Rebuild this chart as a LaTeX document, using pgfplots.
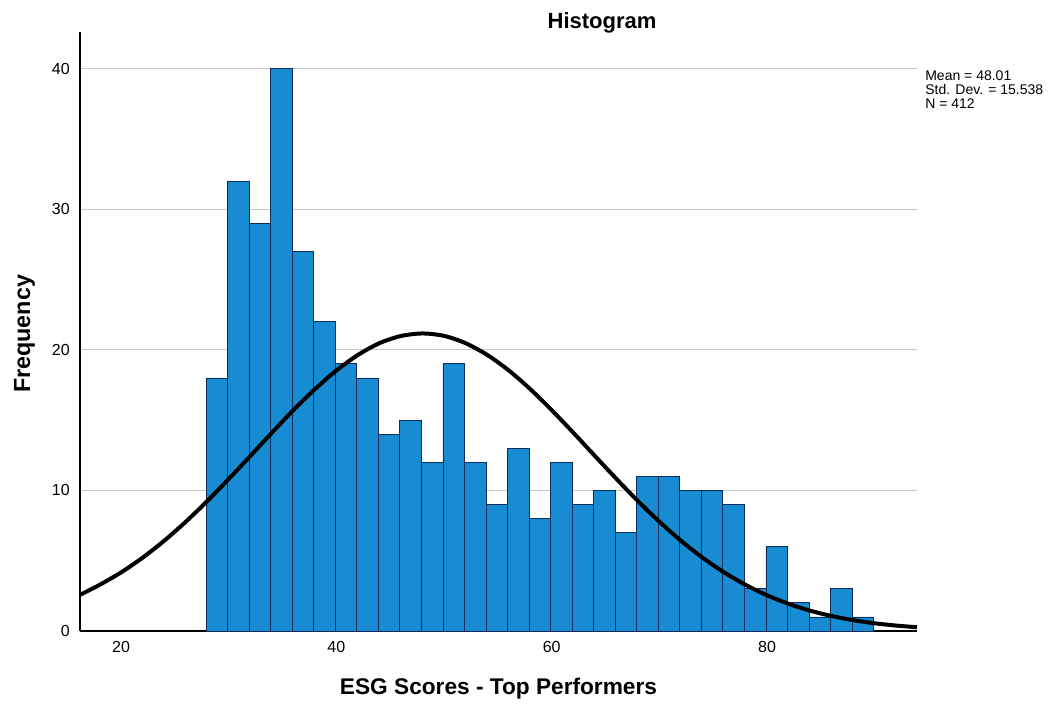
\documentclass[border=0pt]{standalone}
\usepackage{pgfplots}
\pgfplotsset{compat=1.18}
\usepackage{fontspec}
\setmainfont{Liberation Sans}
\definecolor{barblue}{RGB}{24,140,210}
\definecolor{baredge}{RGB}{12,45,90}
\begin{document}
\begin{tikzpicture}
\useasboundingbox (0,0) rectangle (795pt,528pt);
\begin{axis}[
  at={(60pt,54.75pt)}, anchor=south west,
  scale only axis, width=627.75pt, height=449.25pt,
  xmin=16.19, xmax=93.93, ymin=0, ymax=42.6,
  axis x line=bottom, axis y line=left,
  axis line style={-, line width=1.1pt, black},
  xtick={20,40,60,80}, ytick={0,10,20,30,40},
  major tick length=0pt,
  ymajorgrids, grid style={gray!45, line width=0.6pt},
  tick label style={font=\fontsize{12}{13}\selectfont},
  /pgf/number format/assume math mode=true,
  xticklabel style={inner sep=0pt, yshift=-7.5pt},
  yticklabel style={inner sep=0pt, xshift=-7.5pt},
  title={Histogram},
  title style={at={(axis description cs:0.6237,0.9933)}, anchor=base, inner sep=0pt,
    font=\fontsize{16.5}{18}\selectfont\bfseries},
  xlabel={ESG Scores - Top Performers},
  xlabel style={at={(axis description cs:0.5,-0.1068)}, anchor=base, inner sep=0pt,
    font=\fontsize{17}{19}\selectfont\bfseries},
  ylabel={Frequency},
  ylabel style={at={(axis description cs:-0.0597,0.496)}, anchor=base, inner sep=0pt,
    font=\fontsize{17.5}{19}\selectfont\bfseries},
  clip=false,
]
\addplot[ybar interval, fill=barblue, draw=baredge, line width=0.6pt] coordinates {
(27.9,18) (29.9,32) (31.9,29) (33.9,40) (35.9,27) (37.9,22) (39.9,19) (41.9,18)
(43.9,14) (45.9,15) (47.9,12) (49.9,19) (51.9,12) (53.9,9) (55.9,13) (57.9,8)
(59.9,12) (61.9,9) (63.9,10) (65.9,7) (67.9,11) (69.9,11) (71.9,10) (73.9,10)
(75.9,9) (77.9,3) (79.9,6) (81.9,2) (83.9,1) (85.9,3) (87.9,1) (89.9,1)
};
\addplot[black, line width=3pt, smooth] coordinates {
(16.19,2.57) (18,3.278) (20,4.166) (22,5.212) (24,6.412) (26,7.758) (28,9.234)
(30,10.81) (32,12.44) (34,14.09) (36,15.70) (38,17.19) (40,18.53) (42,19.63)
(44,20.47) (46,20.98) (48,21.16) (50,20.99) (52,20.47) (54,19.64) (56,18.54)
(58,17.21) (60,15.71) (62,14.11) (64,12.46) (66,10.83) (68,9.249) (70,7.772)
(72,6.424) (74,5.223) (76,4.177) (78,3.287) (80,2.542) (82,1.934) (84,1.447)
(86,1.065) (88,0.772) (90,0.549) (92,0.385) (93.93,0.27)
};
\node[anchor=north west, inner sep=0pt, align=left,
  font=\fontsize{10.5}{10.5}\selectfont]
  at (axis description cs:1.0096,0.935)
  {Mean = 48.01\\Std. Dev. = 15.538\\N = 412};
\end{axis}
\end{tikzpicture}
\end{document}
